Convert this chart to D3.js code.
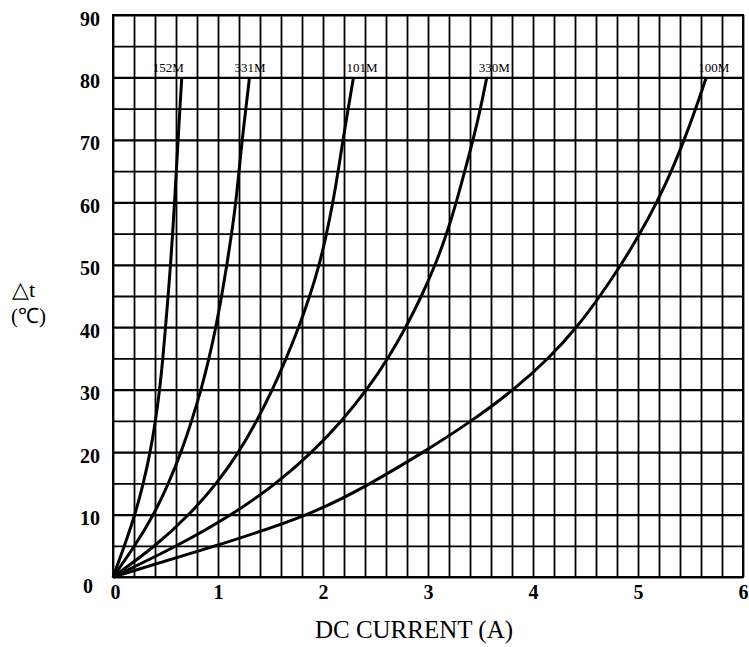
<!DOCTYPE html>
<html>
<head>
<meta charset="utf-8">
<script src="https://cdn.jsdelivr.net/npm/d3@7"></script>
<style>
	body { margin: 0; background: #fff; }
	text { font-family: "Liberation Serif", "Times New Roman", serif; fill: #000; }
</style>
</head>
<body>
<svg id="chart"></svg>
<script>
// Graph Dimensions
const width = 749;
const height = 647;

// plot box inside the svg
const margin = { top: 15, right: 6, bottom: 70, left: 113 };

// Data: temperature rise steps and the DC current read at each step
const temps = [0, 5, 10, 15, 20, 25, 30, 35, 40, 45, 50, 55, 60, 65, 70, 75, 80];
const curve152M = [0, 0.11, 0.21, 0.29, 0.355, 0.405, 0.445, 0.475, 0.5, 0.525, 0.548, 0.568, 0.586, 0.603, 0.62, 0.637, 0.655];
const curve331M = [0, 0.21, 0.39, 0.53, 0.65, 0.75, 0.84, 0.915, 0.98, 1.035, 1.085, 1.13, 1.17, 1.2, 1.23, 1.265, 1.3];
const curve101M = [0, 0.41, 0.73, 0.99, 1.2, 1.37, 1.52, 1.65, 1.77, 1.875, 1.965, 2.035, 2.095, 2.145, 2.19, 2.24, 2.29];
const curve330M = [0, 0.62, 1.14, 1.56, 1.9, 2.18, 2.42, 2.62, 2.79, 2.94, 3.07, 3.18, 3.27, 3.35, 3.43, 3.5, 3.56];
const curve100M = [0, 0.99, 1.9, 2.46, 2.96, 3.42, 3.82, 4.15, 4.42, 4.64, 4.84, 5.02, 5.18, 5.32, 5.44, 5.55, 5.65];

const seriesNames = ["152M", "331M", "101M", "330M", "100M"];
const seriesValues = [curve152M, curve331M, curve101M, curve330M, curve100M];

// tick labels
const xTicks = [0, 1, 2, 3, 4, 5, 6];
const yTicks = [0, 10, 20, 30, 40, 50, 60, 70, 80, 90];
const xGrid = d3.range(0, 31).map((i) => i / 5);
const yGrid = d3.range(0, 19).map((i) => i * 5);

// label nudges (left of curve end)
const labelDx = { "152M": -29, "331M": -15, "101M": -7, "330M": -8, "100M": -8 };

const svg = d3.select("#chart").attr("width", width).attr("height", height);

const xScale = d3.scaleLinear().domain([0, 6]).range([margin.left, width - margin.right]);
const yScale = d3.scaleLinear().domain([0, 90]).range([height - margin.bottom, margin.top]);

// GRID (vertical)
svg
	.append("g")
	.attr("transform", `translate(0, ${height - margin.bottom})`)
	.call(
		d3.axisBottom(xScale)
			.tickValues(xGrid)
			.tickSize(-(height - margin.bottom - margin.top))
			.tickFormat("")
	)
	.call((g) => g.select(".domain").remove())
	.selectAll("line")
	.attr("stroke", "#000")
	.attr("stroke-width", 1.8);

// GRID (horizontal)
svg
	.append("g")
	.attr("transform", `translate(${margin.left}, 0)`)
	.call(
		d3.axisLeft(yScale)
			.tickValues(yGrid)
			.tickSize(-(width - margin.left - margin.right))
			.tickFormat("")
	)
	.call((g) => g.select(".domain").remove())
	.selectAll("line")
	.attr("stroke", "#000")
	.attr("stroke-width", (d) => (d % 10 === 0 ? 2.2 : 1.8));

// frame
svg
	.append("rect")
	.attr("x", xScale(0))
	.attr("y", yScale(90))
	.attr("width", xScale(6) - xScale(0))
	.attr("height", yScale(0) - yScale(90))
	.attr("fill", "none")
	.attr("stroke", "#000")
	.attr("stroke-width", 2);

// X AXIS labels
const xAxis = svg
	.append("g")
	.attr("transform", `translate(0, ${height - margin.bottom})`)
	.call(d3.axisBottom(xScale).tickValues(xTicks).tickSize(0).tickPadding(8).tickFormat(d3.format("d")));
xAxis.select(".domain").remove();
xAxis
	.selectAll("text")
	.attr("dx", (d) => (d === 0 ? 2 : 0))
	.style("font-family", '"Liberation Serif", serif')
	.style("font-size", "20px")
	.style("font-weight", "bold");

// Y AXIS labels
const yAxis = svg
	.append("g")
	.attr("transform", `translate(${margin.left}, 0)`)
	.call(d3.axisLeft(yScale).tickValues(yTicks).tickSize(0).tickPadding(13).tickFormat(d3.format("d")));
yAxis.select(".domain").remove();
yAxis
	.selectAll("text")
	.attr("dx", (d) => (d === 0 ? -7 : 0))
	.attr("dy", (d) => (d === 0 ? "0.75em" : "0.5em"))
	.style("font-family", '"Liberation Serif", serif')
	.style("font-size", "20px")
	.style("font-weight", "bold");

// axis titles
svg
	.append("text")
	.attr("x", 414)
	.attr("y", 638)
	.attr("text-anchor", "middle")
	.style("font-size", "25px")
	.text("DC CURRENT (A)");

svg
	.append("text")
	.attr("x", 12)
	.attr("y", 297)
	.style("font-size", "22px")
	.text("△t");

svg
	.append("text")
	.attr("x", 11)
	.attr("y", 323)
	.style("font-size", "21px")
	.text("(℃)");

// CURVES
const line = d3
	.line()
	.x((d) => xScale(d[0]))
	.y((d) => yScale(d[1]))
	.curve(d3.curveBasis);

seriesNames.forEach((name, i) => {
	const pts = seriesValues[i].map((c, j) => [c, temps[j]]);

	svg
		.append("path")
		.datum(pts)
		.attr("d", line)
		.attr("fill", "none")
		.attr("stroke", "#000")
		.attr("stroke-width", 3);

	const end = pts[pts.length - 1];
	svg
		.append("text")
		.attr("x", xScale(end[0]) + labelDx[name])
		.attr("y", yScale(end[1]) - 5)
		.style("font-size", "13px")
		.text(name);
});
</script>
</body>
</html>
